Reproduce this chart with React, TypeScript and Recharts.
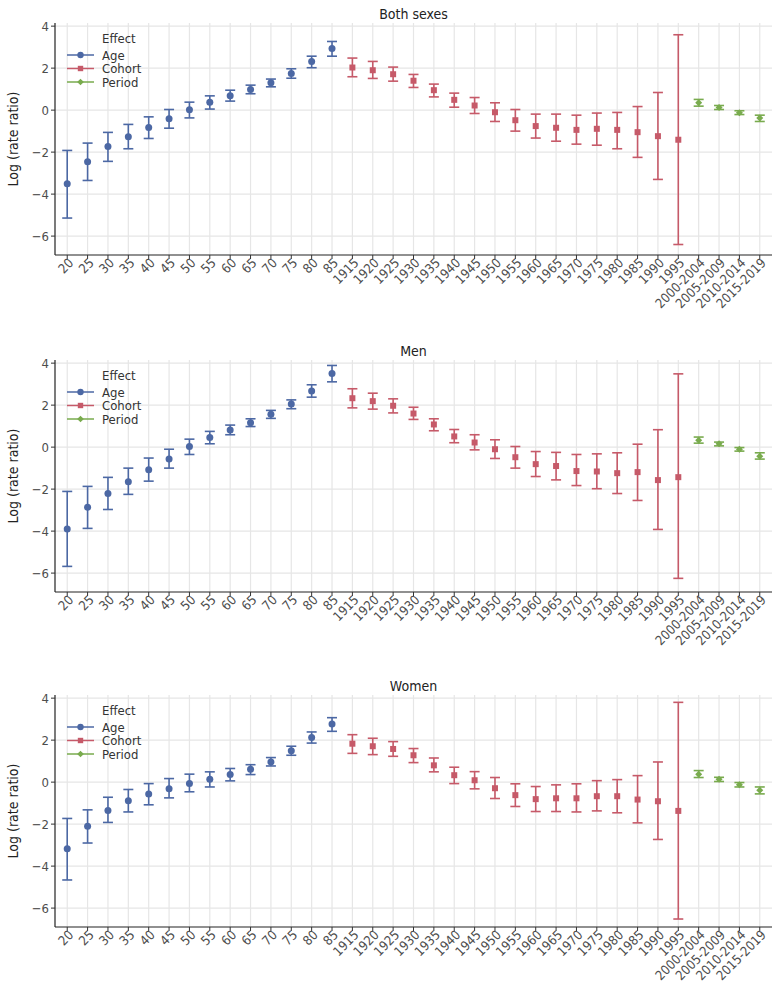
import React from 'react';
import { ScatterChart, Scatter, XAxis, YAxis, CartesianGrid, ErrorBar } from 'recharts';

// category labels along the x axis
const ageGroups = ['20', '25', '30', '35', '40', '45', '50', '55', '60', '65', '70', '75', '80', '85'];
const cohorts = ['1915', '1920', '1925', '1930', '1935', '1940', '1945', '1950', '1955', '1960', '1965', '1970', '1975', '1980', '1985', '1990', '1995'];
const periods = ['2000-2004', '2005-2009', '2010-2014', '2015-2019'];

const yTicks = [-6, -4, -2, 0, 2, 4];
const yGrid = [-6, -5, -4, -3, -2, -1, 0, 1, 2, 3, 4];

// Both sexes
const bothAgeEst = [-3.51, -2.46, -1.73, -1.27, -0.83, -0.41, 0.02, 0.38, 0.68, 0.98, 1.3, 1.75, 2.32, 2.94];
const bothAgeLo = [-5.14, -3.35, -2.44, -1.84, -1.35, -0.86, -0.37, 0.05, 0.43, 0.78, 1.11, 1.52, 2.02, 2.57];
const bothAgeHi = [-1.92, -1.57, -1.06, -0.68, -0.32, 0.03, 0.38, 0.68, 0.95, 1.19, 1.48, 1.97, 2.57, 3.27];
const bothCohortEst = [2.03, 1.9, 1.71, 1.4, 0.95, 0.49, 0.22, -0.1, -0.48, -0.76, -0.84, -0.94, -0.89, -0.94, -1.05, -1.24, -1.41];
const bothCohortLo = [1.59, 1.51, 1.38, 1.08, 0.63, 0.14, -0.16, -0.54, -1.0, -1.33, -1.48, -1.62, -1.67, -1.84, -2.25, -3.3, -6.4];
const bothCohortHi = [2.48, 2.32, 2.05, 1.7, 1.24, 0.81, 0.6, 0.35, 0.03, -0.19, -0.19, -0.24, -0.14, -0.11, 0.17, 0.84, 3.59];
const bothPeriodEst = [0.35, 0.13, -0.13, -0.38];
const bothPeriodLo = [0.19, 0.03, -0.21, -0.54];
const bothPeriodHi = [0.51, 0.22, -0.03, -0.24];

// Men
const menAgeEst = [-3.9, -2.86, -2.21, -1.65, -1.08, -0.56, 0.03, 0.46, 0.81, 1.16, 1.57, 2.05, 2.67, 3.51];
const menAgeLo = [-5.68, -3.87, -2.97, -2.25, -1.62, -1.0, -0.35, 0.16, 0.59, 0.98, 1.37, 1.83, 2.38, 3.11];
const menAgeHi = [-2.11, -1.87, -1.44, -1.0, -0.52, -0.1, 0.38, 0.75, 1.05, 1.35, 1.75, 2.25, 2.97, 3.89];
const menCohortEst = [2.33, 2.19, 1.97, 1.6, 1.08, 0.51, 0.22, -0.1, -0.48, -0.81, -0.9, -1.14, -1.16, -1.24, -1.19, -1.57, -1.43];
const menCohortLo = [1.87, 1.81, 1.63, 1.32, 0.78, 0.21, -0.13, -0.54, -1.0, -1.4, -1.56, -1.83, -1.98, -2.21, -2.54, -3.92, -6.25];
const menCohortHi = [2.78, 2.57, 2.3, 1.9, 1.35, 0.84, 0.59, 0.35, 0.03, -0.21, -0.25, -0.35, -0.32, -0.27, 0.14, 0.83, 3.49];
const menPeriodEst = [0.33, 0.16, -0.1, -0.43];
const menPeriodLo = [0.19, 0.06, -0.19, -0.57];
const menPeriodHi = [0.48, 0.24, -0.02, -0.27];

// Women
const womenAgeEst = [-3.17, -2.1, -1.35, -0.89, -0.56, -0.31, -0.07, 0.14, 0.36, 0.61, 0.96, 1.5, 2.12, 2.77];
const womenAgeLo = [-4.66, -2.9, -1.92, -1.42, -1.08, -0.75, -0.46, -0.23, 0.06, 0.36, 0.77, 1.28, 1.86, 2.42];
const womenAgeHi = [-1.73, -1.32, -0.72, -0.35, -0.07, 0.17, 0.38, 0.49, 0.65, 0.83, 1.17, 1.71, 2.39, 3.07];
const womenCohortEst = [1.83, 1.71, 1.58, 1.28, 0.8, 0.33, 0.09, -0.29, -0.62, -0.81, -0.77, -0.77, -0.67, -0.67, -0.83, -0.91, -1.37];
const womenCohortLo = [1.37, 1.31, 1.23, 0.93, 0.49, -0.07, -0.32, -0.78, -1.16, -1.4, -1.4, -1.42, -1.37, -1.46, -1.94, -2.73, -6.52];
const womenCohortHi = [2.26, 2.09, 1.93, 1.6, 1.15, 0.71, 0.5, 0.22, -0.08, -0.21, -0.13, -0.08, 0.07, 0.12, 0.31, 0.96, 3.8];
const womenPeriodEst = [0.38, 0.14, -0.12, -0.39];
const womenPeriodLo = [0.22, 0.03, -0.23, -0.56];
const womenPeriodHi = [0.55, 0.23, -0.02, -0.23];

const BLUE = '#4c68a4';
const RED = '#c65a69';
const GREEN = '#79ab4e';
const FONT = '"Liberation Sans Narrow", "DejaVu Sans Condensed", "Roboto", sans-serif';

const categories = [...ageGroups, ...cohorts, ...periods];
const xIndex = categories.map((_, i) => i);

const toPoints = (offset: number, est: number[], lo: number[], hi: number[]) =>
  est.map((y, i) => ({ x: offset + i, y, err: [y - lo[i], hi[i] - y] }));

const fmtY = (v: number) => (v < 0 ? `\u2212${Math.abs(v)}` : `${v}`);

const XTick = (props: any) => {
  const { x, y, payload } = props;
  return (
    <g transform={`translate(${x},${y})`}>
      <text x={0} y={0} dx={3} dy={7} textAnchor="end" transform="rotate(-45)" fontSize={13} fill="#4d4d4d" fontFamily={FONT}>
        {categories[payload.value]}
      </text>
    </g>
  );
};

const circleShape = (p: any) => <circle cx={p.cx} cy={p.cy} r={3.5} fill={BLUE} />;
const squareShape = (p: any) => <rect x={p.cx - 3} y={p.cy - 3} width={6} height={6} fill={RED} />;
const diamondShape = (p: any) => (
  <path d={`M${p.cx},${p.cy - 3.5}L${p.cx + 3.5},${p.cy}L${p.cx},${p.cy + 3.5}L${p.cx - 3.5},${p.cy}Z`} fill={GREEN} />
);

const LegendBox = () => {
  const items = [
    { name: 'Age', color: BLUE, kind: 'circle' },
    { name: 'Cohort', color: RED, kind: 'square' },
    { name: 'Period', color: GREEN, kind: 'diamond' },
  ];
  return (
    <svg width={130} height={80} style={{ position: 'absolute', left: 60, top: 28 }}>
      <text x={42} y={15} fontSize={13} fill="#333" fontFamily={FONT}>Effect</text>
      {items.map((it, i) => {
        const cy = 27 + i * 13.5;
        return (
          <g key={it.name}>
            <line x1={7} x2={34} y1={cy} y2={cy} stroke={it.color} strokeWidth={1.5} />
            {it.kind === 'circle' && <circle cx={20.5} cy={cy} r={3.2} fill={it.color} />}
            {it.kind === 'square' && <rect x={17.8} y={cy - 2.7} width={5.4} height={5.4} fill={it.color} />}
            {it.kind === 'diamond' && (
              <path d={`M20.5,${cy - 3.3}L23.8,${cy}L20.5,${cy + 3.3}L17.2,${cy}Z`} fill={it.color} />
            )}
            <text x={42} y={cy + 4.5} fontSize={13} fill="#333" fontFamily={FONT}>{it.name}</text>
          </g>
        );
      })}
    </svg>
  );
};

interface PanelProps {
  title: string;
  top: number;
  age: number[][];
  cohort: number[][];
  period: number[][];
}

const Panel: React.FC<PanelProps> = ({ title, top, age, cohort, period }) => {
  const ageData = toPoints(0, age[0], age[1], age[2]);
  const cohortData = toPoints(ageGroups.length, cohort[0], cohort[1], cohort[2]);
  const periodData = toPoints(ageGroups.length + cohorts.length, period[0], period[1], period[2]);

  return (
    <div style={{ position: 'absolute', left: 0, top, width: 780, height: 335 }}>
      <div
        style={{
          position: 'absolute', left: 55, top: 5, width: 717, textAlign: 'center',
          fontSize: 14, lineHeight: '18px', color: '#222', fontFamily: FONT,
        }}
      >
        {title}
      </div>
      <ScatterChart width={780} height={335} margin={{ top: 23, right: 8, bottom: 0, left: 0 }}>
        <CartesianGrid stroke="#e6e6e6" strokeWidth={1.2} horizontalValues={yGrid} verticalValues={xIndex} />
        <XAxis
          type="number"
          dataKey="x"
          domain={[-0.6, categories.length - 0.4]}
          ticks={xIndex}
          interval={0}
          allowDataOverflow
          height={80}
          tickSize={4}
          tickLine={{ stroke: '#333' }}
          axisLine={{ stroke: '#222', strokeWidth: 1.2 }}
          tick={<XTick />}
        />
        <YAxis
          type="number"
          dataKey="y"
          domain={[-6.9, 4.15]}
          ticks={yTicks}
          allowDataOverflow
          width={55}
          tickSize={4}
          tickLine={{ stroke: '#333' }}
          axisLine={{ stroke: '#222', strokeWidth: 1.2 }}
          tickFormatter={fmtY}
          tick={{ fontSize: 13, fill: '#4d4d4d', fontFamily: FONT }}
          label={{
            content: (lp: any) => {
              const vb = lp.viewBox;
              const cy = vb.y + vb.height / 2;
              return (
                <text x={18} y={cy} transform={`rotate(-90, 18, ${cy})`} textAnchor="middle" fontSize={14} fill="#222" fontFamily={FONT}>
                  Log (rate ratio)
                </text>
              );
            },
          }}
        />
        <Scatter name="Age" data={ageData} shape={circleShape} isAnimationActive={false}>
          <ErrorBar dataKey="err" direction="y" width={5} stroke={BLUE} strokeWidth={1.6} />
        </Scatter>
        <Scatter name="Cohort" data={cohortData} shape={squareShape} isAnimationActive={false}>
          <ErrorBar dataKey="err" direction="y" width={5} stroke={RED} strokeWidth={1.6} />
        </Scatter>
        <Scatter name="Period" data={periodData} shape={diamondShape} isAnimationActive={false}>
          <ErrorBar dataKey="err" direction="y" width={5} stroke={GREEN} strokeWidth={1.6} />
        </Scatter>
      </ScatterChart>
      <LegendBox />
    </div>
  );
};

export default function App() {
  return (
    <div style={{ position: 'absolute', left: 0, top: 0, width: 780, height: 991, background: '#fff' }}>
      <Panel
        title="Both sexes"
        top={0}
        age={[bothAgeEst, bothAgeLo, bothAgeHi]}
        cohort={[bothCohortEst, bothCohortLo, bothCohortHi]}
        period={[bothPeriodEst, bothPeriodLo, bothPeriodHi]}
      />
      <Panel
        title="Men"
        top={337}
        age={[menAgeEst, menAgeLo, menAgeHi]}
        cohort={[menCohortEst, menCohortLo, menCohortHi]}
        period={[menPeriodEst, menPeriodLo, menPeriodHi]}
      />
      <Panel
        title="Women"
        top={672}
        age={[womenAgeEst, womenAgeLo, womenAgeHi]}
        cohort={[womenCohortEst, womenCohortLo, womenCohortHi]}
        period={[womenPeriodEst, womenPeriodLo, womenPeriodHi]}
      />
    </div>
  );
}
